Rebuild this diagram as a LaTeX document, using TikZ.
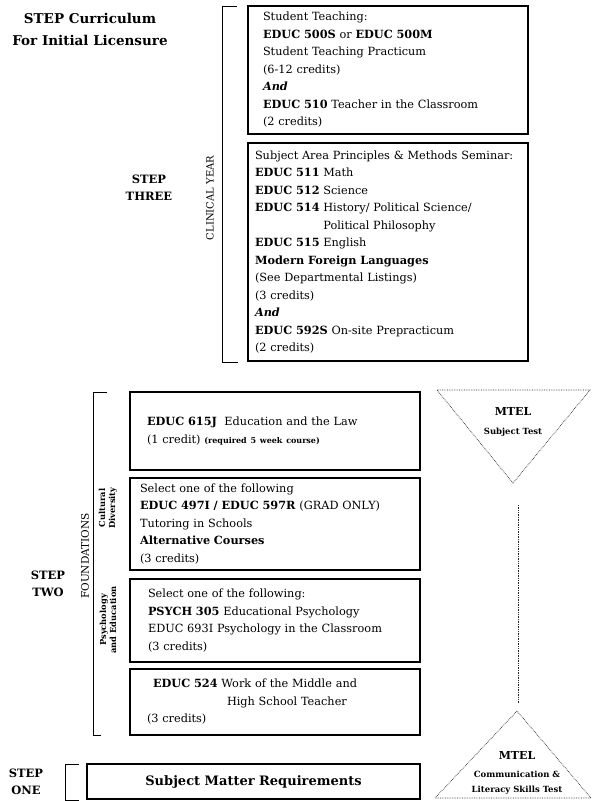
\documentclass[tikz,border=0pt]{standalone}
\usepackage{fontspec}
\setmainfont{DejaVu Serif}

\begin{document}
\begin{tikzpicture}[
    x=1pt, y=-1pt,
    font=\fontsize{11.3}{17.5}\selectfont,
    % Styles
    coursebox/.style={
        rectangle, draw=black, line width=1.1pt,
        anchor=north west, align=left,
        inner ysep=0pt, outer sep=0pt
    },
    reqbox/.style={
        rectangle, draw=black, line width=1.1pt,
        anchor=north west, align=center,
        font=\fontsize{13}{15}\selectfont\bfseries,
        minimum width=333pt, minimum height=35pt, outer sep=0pt
    },
    titlelabel/.style={font=\fontsize{13.5}{22}\selectfont\bfseries, align=center},
    steplabel/.style={font=\fontsize{11.5}{17}\selectfont\bfseries, align=center},
    sidelabel/.style={font=\fontsize{10}{12}\selectfont, rotate=90},
    sublabel/.style={font=\fontsize{8.3}{10}\selectfont\bfseries, align=center, rotate=90},
    mtelhead/.style={font=\fontsize{11}{12}\selectfont\bfseries},
    mteltext/.style={font=\fontsize{8.5}{15}\selectfont\bfseries, align=center},
    bracket/.style={draw=black, line width=0.9pt},
    testedge/.style={draw=black!85, line width=0.7pt, densely dotted},
]
\useasboundingbox (0,0) rectangle (592,801);

%--- Title ---%
\node[titlelabel] (title) at (90,29) {STEP Curriculum\\For Initial Licensure};

%--- Step three: clinical year ---%
\node[steplabel] (stepthree) at (149,188) {STEP\\THREE};
\node[sidelabel] (clinical) at (210,198) {CLINICAL YEAR};
\draw[bracket] (237,6) -- (222,6) -- (222,362) -- (238,362);

\node[coursebox, text width=250pt, inner xsep=15pt, minimum height=128pt] (teaching) at (248,6) {%
Student Teaching:\\
\textbf{EDUC 500S} or \textbf{EDUC 500M}\\
Student Teaching Practicum\\
(6-12 credits)\\
\textbf{\textit{And}}\\
\textbf{EDUC 510} Teacher in the Classroom\\
(2 credits)};

\node[coursebox, text width=266pt, inner xsep=7pt, minimum height=218pt] (methods) at (248,143) {%
Subject Area Principles \& Methods Seminar:\\
\textbf{EDUC 511} Math\\
\textbf{EDUC 512} Science\\
\textbf{EDUC 514} History/ Political Science/\\
\phantom{\textbf{EDUC 514}}\ Political Philosophy\\
\textbf{EDUC 515} English\\
\textbf{Modern Foreign Languages}\\
(See Departmental Listings)\\
(3 credits)\\
\textbf{\textit{And}}\\
\textbf{EDUC 592S} On-site Prepracticum\\
(2 credits)};

%--- Step two: foundations ---%
\node[steplabel] (steptwo) at (48,584) {STEP\\TWO};
\node[sidelabel, font=\fontsize{10.5}{12}\selectfont] (foundations) at (85,556) {FOUNDATIONS};
\draw[bracket] (107,392) -- (93,392) -- (93,735) -- (101,735);
\node[sublabel] (cultural) at (108,508) {Cultural\\Diversity};
\node[sublabel] (psychology) at (108,620) {Psychology\\and Education};

\node[coursebox, text width=256pt, inner xsep=17pt, minimum height=78pt] (law) at (130,392) {%
\textbf{EDUC 615J}\ \ Education and the Law\\
(1 credit) {\fontsize{8}{17.5}\selectfont\bfseries (required 5 week course)}};

\node[coursebox, text width=270pt, inner xsep=10pt, minimum height=92pt] (tutoring) at (130,478) {%
Select one of the following\\
\textbf{EDUC 497I / EDUC 597R} (GRAD ONLY)\\
Tutoring in Schools\\
\textbf{Alternative Courses}\\
(3 credits)};

\node[coursebox, text width=254pt, inner xsep=18pt, minimum height=83pt] (psych) at (130,579) {%
Select one of the following:\\
\textbf{PSYCH 305} Educational Psychology\\
EDUC 693I Psychology in the Classroom\\
(3 credits)};

\node[coursebox, text width=256pt, inner xsep=17pt, minimum height=66pt] (middle) at (130,669) {%
\hspace*{6pt}\textbf{EDUC 524} Work of the Middle and\\
\hspace*{80pt}High School Teacher\\
(3 credits)};

%--- Step one ---%
\node[steplabel] (stepone) at (26,782) {STEP\\ONE};
\draw[bracket] (79,764) -- (65,764) -- (65,800) -- (79,800);
\node[reqbox] (subject) at (87,764) {Subject Matter Requirements};

%--- MTEL tests ---%
% Subject test: triangle pointing down
\coordinate (subleft) at (437,390);
\coordinate (subright) at (590,390);
\coordinate (subapex) at (513,483);
\draw[testedge] (subleft) -- (subright) -- (subapex) -- cycle;
\node[mtelhead] (mtelsubj) at (513,411) {MTEL};
\node[mteltext] (subjtest) at (513,432) {Subject Test};

% Communication & literacy test: triangle pointing up
\coordinate (comleft) at (435,798);
\coordinate (comright) at (591,798);
\coordinate (comapex) at (517,711);
\draw[testedge] (comleft) -- (comright) -- (comapex) -- cycle;
\node[mtelhead] (mtelcomm) at (517,755) {MTEL};
\node[mteltext] (commtest) at (517,783) {Communication \&\\Literacy Skills Test};

% Link between the tests
\coordinate (linktop) at (518,505);
\coordinate (linkbot) at (518,703);
\draw[testedge] (linktop) -- (linkbot);

\end{tikzpicture}
\end{document}
